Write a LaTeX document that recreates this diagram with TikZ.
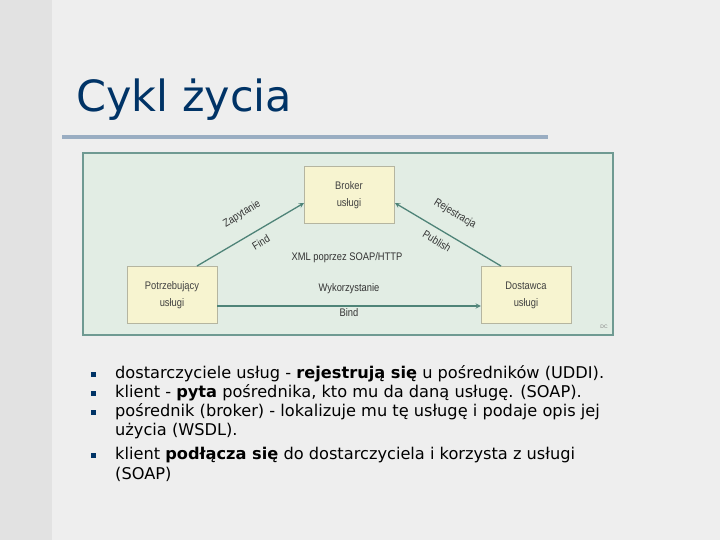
\documentclass[tikz,border=0pt]{standalone}
\usepackage{fontspec}
\setmainfont{DejaVu Sans}
\newfontfamily\diag{Liberation Sans}
\definecolor{bg}{HTML}{EEEEEE}
\definecolor{strip}{HTML}{E2E2E2}
\definecolor{ttl}{HTML}{003366}
\definecolor{frame}{HTML}{6F9A92}
\definecolor{dfill}{HTML}{E2EDE4}
\definecolor{nfill}{HTML}{F7F4D0}
\definecolor{nline}{HTML}{B5B5A0}
\definecolor{arr}{HTML}{4F8478}
\begin{document}
\begin{tikzpicture}[x=1pt,y=-1pt,
  nbox/.style={draw=nline,fill=nfill,minimum width=90pt,minimum height=57pt},
  box/.style={align=center,font=\diag\fontsize{11}{17}\selectfont,text=black!75,xscale=0.85},
  lbl/.style={font=\diag\fontsize{11}{13}\selectfont,text=black!80,inner sep=0pt},
  conn/.style={draw=arr,line width=1.3pt,-stealth},
  bul/.style={fill=ttl,minimum size=5pt,inner sep=0pt},
  btxt/.style={anchor=west,font=\fontsize{16.2}{18}\selectfont,text=black,inner sep=0pt}]
\useasboundingbox (0,0) rectangle (720,540);
\fill[bg] (0,0) rectangle (720,540);
\fill[strip] (0,0) rectangle (52,540);
\node[anchor=west,text=ttl,font=\fontsize{43}{46}\selectfont,inner sep=0pt] (title) at (76,100) {Cykl życia};
\fill[ttl!40!white] (62,135.5) rectangle (548,139);
\draw[frame,line width=2.5pt,fill=dfill] (83,153) rectangle (613,335);
\node[nbox] (broker) at (349,195) {};
\node[nbox] (potrz) at (172,295) {};
\node[nbox] (dost) at (526,295) {};
\node[box] (brokert) at (broker) {Broker\\usługi};
\node[box] (potrzt) at (potrz) {Potrzebujący\\usługi};
\node[box] (dostt) at (dost) {Dostawca\\usługi};
\coordinate (pa) at (197,266);
\coordinate (da) at (501,266);
\coordinate (bl) at (304,203);
\coordinate (br) at (395,203);
\draw[conn] (pa) -- (bl);
\draw[conn] (da) -- (br);
\draw[conn] (potrz.east |- 0,306) -- (dost.west |- 0,306);
\node[lbl,rotate=31,xscale=0.85] (zap) at (242,214) {Zapytanie};
\node[lbl,rotate=31,xscale=0.85] (find) at (261,242) {Find};
\node[lbl,rotate=-31,xscale=0.85] (rej) at (455,214) {Rejestracja};
\node[lbl,rotate=-31,xscale=0.85] (pub) at (437,241) {Publish};
\node[lbl,xscale=0.85] (xml) at (347,258) {XML poprzez SOAP/HTTP};
\node[lbl,xscale=0.85] (wyk) at (349,289) {Wykorzystanie};
\node[lbl,xscale=0.85] (bind) at (349,313) {Bind};
\node[font=\diag\fontsize{5}{5}\selectfont,text=gray] (dc) at (604,327) {DC};
\foreach \y/\n in {374/b1,393/b2,412/b3,455/b4} \node[bul] (\n) at (93,\y) {};
\node[btxt] (t1) at (115,374) {dostarczyciele usług - \textbf{rejestrują się} u pośredników (UDDI).};
\node[btxt] (t2) at (115,393) {klient - \textbf{pyta} pośrednika, kto mu da daną usługę. (SOAP).};
\node[btxt] (t3) at (115,412) {pośrednik (broker) - lokalizuje mu tę usługę i podaje opis jej};
\node[btxt] (t3b) at (115,431) {użycia (WSDL).};
\node[btxt] (t4) at (115,455) {klient \textbf{podłącza się} do dostarczyciela i korzysta z usługi};
\node[btxt] (t4b) at (115,474) {(SOAP)};
\end{tikzpicture}
\end{document}
